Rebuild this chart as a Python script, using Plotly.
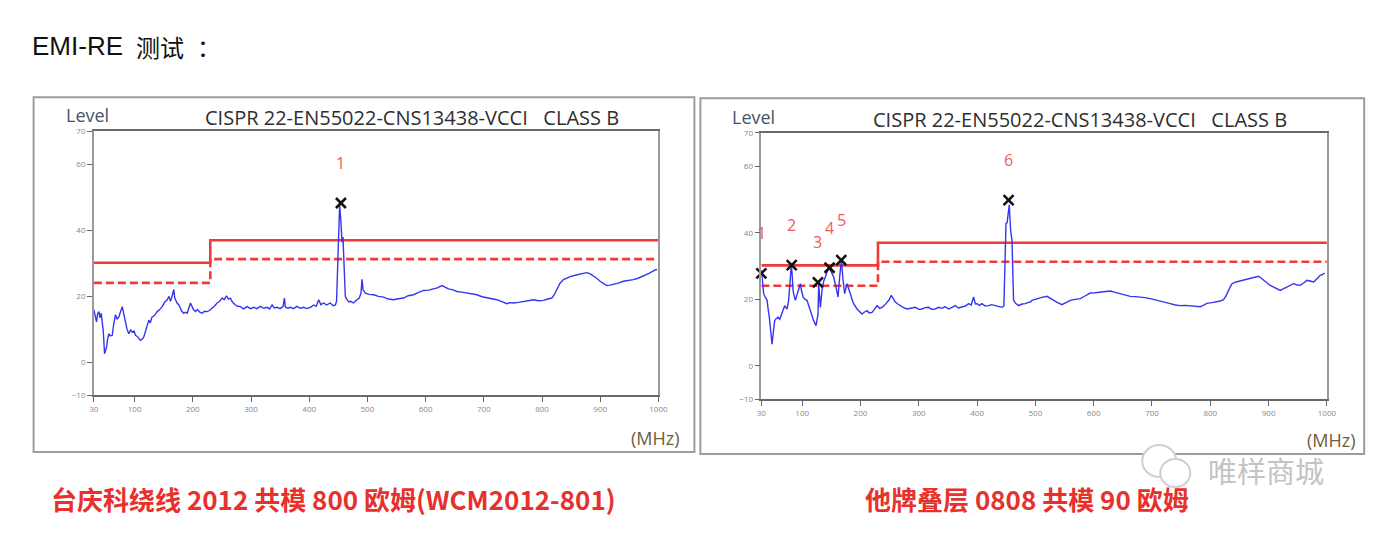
import plotly.graph_objects as go

W, H = 1388, 544
# measured placement of the rendered figure in the photographed window
SX, BX = 0.9895, 12.4
SY, BY = 0.978, 13.8


def px(x):
    return ((x - BX) / SX) / W


def py(y):
    return 1 - ((y - BY) / SY) / H


# ---------------- data ----------------
freq_a = [30, 32, 34.6, 36.5, 38.6, 40.5, 42.7, 44.5, 46, 48.4, 50, 51.8, 53.5, 55.8, 58, 61.6, 64, 67, 70, 72.9,
          76, 78.8, 81, 84.4, 87, 90, 93, 96, 99, 101.6, 105, 110, 113, 115.8, 120, 124.4, 127, 130, 134, 138.8,
          143, 147.4, 152, 156, 159, 161.7, 165, 167.3, 169, 170.3, 173, 176, 178.9, 181, 184.5, 187, 190.3, 193,
          196, 198, 201, 204.6, 208, 212, 216, 220, 224.7, 229, 233.3, 237, 241.9, 246, 250.5, 254, 257.8, 261,
          264.7, 268, 273.3, 277, 281.9, 287, 293.4, 299, 304.7, 310, 316, 322, 327.7, 332, 336.3, 340, 344.9,
          350, 355, 357.4, 359, 363, 367.7, 373, 379, 385, 390.5, 396, 402, 407.7, 412, 416.3, 420, 424.9, 430,
          436.3, 441, 445, 447, 449, 450.6, 452.3, 454, 456.4, 458, 460, 462, 465, 468, 471, 476, 482, 486, 489,
          490.8, 492.5, 496.5, 503, 510.7, 519, 527.9, 536, 545, 553, 562.2, 570, 579.4, 588, 596.5, 605, 613.7,
          620, 628, 634, 639.4, 647, 653.9, 662, 671, 680, 688.2, 697, 705.4, 714, 722.5, 731, 739.7, 745, 751,
          760, 768.2, 777, 785.4, 794, 802.5, 810, 816.9, 821, 825.5, 831, 836.9, 842, 848.4, 857, 865.5, 872,
          877, 883, 888.4, 894, 899.8, 905, 911.3, 917, 922.7, 931, 939.9, 948, 957, 965, 974.2, 984, 994.3, 998]
level_a = [15.9, 14.5, 12.3, 14.8, 15.4, 13.5, 14.9, 12.0, 9.8, 2.6, 3.5, 4.6, 7.0, 8.7, 8.0, 8.2, 11.5, 14.4, 13.2,
           13.8, 15.5, 16.9, 15.0, 12.3, 10.0, 8.7, 9.8, 9.2, 9.5, 8.2, 7.8, 6.7, 7.0, 7.7, 10.5, 12.8, 12.0, 13.8,
           14.2, 15.4, 16.0, 16.9, 18.3, 19.0, 20.0, 18.5, 20.5, 22.1, 19.5, 19.0, 18.0, 17.4, 16.4, 15.5, 14.9,
           15.2, 14.9, 16.5, 18.0, 17.2, 16.0, 15.4, 16.0, 15.2, 14.9, 15.5, 15.4, 15.8, 16.4, 17.0, 18.0, 18.5,
           19.5, 19.0, 20.2, 19.2, 19.5, 18.3, 17.4, 17.0, 16.9, 16.2, 16.9, 16.3, 16.7, 16.3, 17.0, 16.4, 16.7,
           16.2, 17.4, 16.5, 16.7, 16.3, 16.9, 19.5, 16.8, 16.4, 16.7, 16.3, 17.0, 16.4, 16.7, 16.3, 16.7, 17.4,
           17.0, 19.0, 17.5, 18.0, 17.4, 18.0, 17.2, 17.4, 18.5, 30.0, 42.6, 47.7, 44.0, 36.4, 38.0, 30.0, 20.0,
           19.0, 18.3, 18.5, 18.0, 19.0, 19.5, 21.0, 25.2, 22.0, 21.0, 20.6, 20.5, 20.0, 19.8, 19.2, 19.0, 19.3,
           19.5, 20.2, 20.5, 21.2, 21.8, 21.9, 22.3, 22.6, 23.3, 22.8, 22.3, 22.0, 21.5, 21.3, 21.0, 20.8, 20.5,
           19.9, 19.5, 19.3, 19.0, 18.5, 17.8, 18.1, 18.0, 18.2, 18.5, 18.9, 19.0, 18.7, 18.8, 19.2, 19.5, 20.5,
           22.1, 24.0, 25.1, 25.6, 26.0, 26.4, 26.7, 27.0, 27.2, 26.8, 26.2, 25.5, 24.6, 24.0, 23.3, 23.4, 23.6,
           24.0, 24.6, 24.8, 25.1, 25.5, 26.2, 27.0, 28.0, 28.2]

freq_b = [30, 31.5, 34, 37, 39.8, 42, 43.7, 46, 48.3, 50.5, 52.8, 55.5, 58.6, 61.5, 64.3, 67, 70, 72, 74, 76.8, 79,
          81.4, 83, 84.3, 86.3, 88.3, 90.5, 92.9, 96.9, 99, 101.5, 105, 108.4, 111, 114, 117, 119.7, 123.8, 125.5,
          127.2, 128.3, 129.5, 131.2, 134, 137, 139.7, 142.5, 145.4, 150, 154, 158, 161.5, 164.3, 167.2, 170.1,
          172.9, 176.9, 179.5, 182.6, 185.5, 188.3, 194.1, 198, 202.6, 207, 211.2, 215, 219.8, 224, 228.4, 233,
          237, 241, 245.5, 249, 252.9, 256, 259.8, 264, 268.3, 274, 279.8, 287, 294, 300, 305.5, 311, 316.9, 322,
          328.4, 334, 340, 345, 351.2, 357, 362.6, 368, 374.1, 380, 385.5, 390, 394, 397, 399.8, 404, 408.4, 414,
          419.8, 425, 431.3, 437, 442.7, 446, 448, 449.6, 451.5, 453, 455.2, 457.5, 459.9, 461.3, 462.6, 466,
          471.2, 477, 482.7, 488, 491.3, 494.2, 502.7, 511, 519.9, 525, 531.2, 538, 545.6, 552, 559.8, 568, 577,
          585, 594.1, 602, 611.3, 620, 628.4, 637, 645.6, 654, 662.7, 671, 679.9, 688, 697, 705, 714.2, 722, 731.3,
          740, 748.5, 757, 765.6, 774, 782.8, 788, 794.2, 803, 811.4, 817, 822.7, 827, 831.3, 834, 837.1, 844,
          851.3, 860, 868.5, 876, 882.7, 887, 891.3, 897, 902.8, 911, 919.9, 926, 931.4, 937, 942.8, 948, 954.3,
          960, 965.7, 971, 977.2, 983, 988.6, 993, 996]
level_b = [28.8, 25.0, 21.7, 20.5, 19.7, 16.5, 14.6, 10.5, 6.5, 10.0, 13.6, 14.2, 14.6, 14.0, 15.6, 16.5, 18.1, 17.5,
           17.1, 19.7, 25.0, 30.3, 27.0, 22.7, 21.0, 19.7, 21.0, 22.7, 24.7, 22.5, 20.7, 20.0, 19.7, 18.2, 16.6,
           15.0, 13.6, 12.1, 13.5, 15.6, 24.7, 21.0, 17.6, 22.7, 25.5, 26.7, 28.5, 29.7, 28.2, 26.7, 23.7, 20.7,
           26.7, 31.8, 25.8, 21.7, 24.7, 23.5, 21.7, 20.0, 18.7, 17.1, 16.5, 15.6, 16.2, 16.6, 15.9, 16.1, 17.0,
           18.1, 17.3, 17.6, 18.2, 19.2, 19.8, 21.2, 20.2, 19.2, 18.6, 18.1, 17.5, 17.1, 17.3, 17.6, 17.0, 17.1,
           17.5, 17.6, 17.0, 17.1, 17.6, 17.3, 17.8, 17.1, 17.6, 18.1, 17.4, 17.6, 18.0, 18.7, 18.3, 20.7, 18.6,
           18.7, 18.2, 18.7, 18.0, 18.1, 18.4, 18.1, 17.8, 17.6, 18.0, 30.0, 42.8, 43.0, 44.8, 48.4, 40.7, 37.7,
           28.0, 19.7, 18.8, 18.1, 18.6, 18.7, 19.1, 19.2, 19.7, 20.2, 20.6, 20.9, 20.3, 19.7, 19.0, 18.4, 19.0,
           19.7, 20.0, 20.2, 21.0, 21.9, 22.0, 22.2, 22.4, 22.5, 22.1, 21.7, 21.3, 20.9, 20.8, 20.7, 20.5, 20.2,
           19.8, 19.5, 19.1, 18.7, 18.3, 18.1, 18.2, 18.1, 17.9, 17.8, 18.2, 18.8, 19.0, 19.2, 19.5, 19.9, 21.0,
           22.7, 23.8, 24.7, 25.2, 25.5, 25.8, 26.2, 26.6, 26.9, 26.4, 25.7, 25.0, 24.2, 23.5, 22.7, 23.2, 23.7,
           24.2, 24.7, 24.4, 24.2, 24.9, 25.7, 25.5, 25.2, 26.2, 27.2, 27.5, 27.9]

limit_freq = [30, 230, 230, 1000]
limit_qp = [30.2, 30.2, 37.0, 37.0]
limit_margin = [24.1, 24.1, 31.3, 31.3]

peak_a_freq = [454.5]
peak_a_level = [48.3]
peak_a_label = ["1"]

peak_b_freq = [30, 82, 127, 147, 167, 454]
peak_b_level = [27.8, 30.3, 25.1, 29.5, 31.8, 49.8]
peak_b_label = ["1", "2", "3", "4", "5", "6"]

x_ticks = [30, 100, 200, 300, 400, 500, 600, 700, 800, 900, 1000]
y_ticks = [-10, 0, 20, 40, 60, 70]

page_title_latin = "EMI-RE"
page_title_cjk = "测试"
page_title_colon = "："
chart_title = "CISPR 22-EN55022-CNS13438-VCCI   CLASS B"
caption_a = "台庆科绕线 2012 共模 800 欧姆(WCM2012-801)"
caption_b = "他牌叠层 0808 共模 90 欧姆"
watermark = "唯样商城"

# ---------------- styles ----------------
RED = "#f03a3a"
BLUE = "#3535f0"
LABEL_RED = "#f25a5a"
CHART_FONT = "Open Sans"

fig = go.Figure()

panels = [
    dict(xa="x", ya="y", freq=freq_a, level=level_a, pf=peak_a_freq, pl=peak_a_level, lab=peak_a_label),
    dict(xa="x2", ya="y2", freq=freq_b, level=level_b, pf=peak_b_freq, pl=peak_b_level, lab=peak_b_label),
]

annotations = []
for p in panels:
    fig.add_trace(go.Scatter(x=limit_freq, y=limit_qp, mode="lines", xaxis=p["xa"], yaxis=p["ya"],
                             line=dict(color=RED, width=2.6), showlegend=False, hoverinfo="skip"))
    fig.add_trace(go.Scatter(x=limit_freq, y=limit_margin, mode="lines", xaxis=p["xa"], yaxis=p["ya"],
                             line=dict(color=RED, width=2.6, dash="8px,4px"), showlegend=False, hoverinfo="skip"))
    fig.add_trace(go.Scatter(x=p["freq"], y=p["level"], mode="lines", xaxis=p["xa"], yaxis=p["ya"],
                             line=dict(color=BLUE, width=1.4), showlegend=False))
    fig.add_trace(go.Scatter(x=p["pf"], y=p["pl"], mode="markers", xaxis=p["xa"], yaxis=p["ya"],
                             marker=dict(symbol="x-thin", size=10, line=dict(color="#111111", width=2.6)),
                             showlegend=False, cliponaxis=False))
    for f, l, t in zip(p["pf"], p["pl"], p["lab"]):
        annotations.append(dict(x=f, y=l, xref=p["xa"], yref=p["ya"], text=t, showarrow=False,
                                yshift=40, font=dict(family=CHART_FONT, size=16, color=LABEL_RED)))

axis_common_x = dict(range=[30, 1000], tickvals=x_ticks, ticks="outside", ticklen=5, tickwidth=1,
                     tickcolor="#666666", tickfont=dict(family=CHART_FONT, size=8, color="#888888"),
                     showgrid=False, zeroline=False, showline=True, linecolor="#6a6a6a", linewidth=1.5,
                     mirror=True)
axis_common_y = dict(range=[-10, 70], tickvals=y_ticks, ticks="outside", ticklen=5, tickwidth=1,
                     tickcolor="#666666", tickfont=dict(family=CHART_FONT, size=8, color="#888888"),
                     showgrid=False, zeroline=False, showline=True, linecolor="#9a9a9a", linewidth=1.5,
                     mirror=True)

fig.update_layout(
    width=W, height=H, margin=dict(l=0, r=0, t=0, b=0),
    paper_bgcolor="white", plot_bgcolor="white",
    xaxis=dict(domain=[px(93.3), px(658)], anchor="y", **axis_common_x),
    yaxis=dict(domain=[py(394.5), py(131)], anchor="x", **axis_common_y),
    xaxis2=dict(domain=[px(761), px(1326.7)], anchor="y2", **axis_common_x),
    yaxis2=dict(domain=[py(398.3), py(132.5)], anchor="x2", **axis_common_y),
)

# frames
shapes = [
    dict(type="rect", xref="paper", yref="paper", x0=px(33), x1=px(694), y0=py(451), y1=py(97),
         line=dict(color="#9c9c9c", width=2), layer="below"),
    dict(type="rect", xref="paper", yref="paper", x0=px(700), x1=px(1364), y0=py(453), y1=py(98),
         line=dict(color="#9c9c9c", width=2), layer="below"),
    # watermark icon (speech bubbles)
    dict(type="circle", xref="paper", yref="paper", x0=px(1142), x1=px(1176), y0=py(476), y1=py(444),
         line=dict(color="#cfcfcf", width=2), fillcolor="white"),
    dict(type="circle", xref="paper", yref="paper", x0=px(1160), x1=px(1190), y0=py(486), y1=py(458),
         line=dict(color="#cfcfcf", width=2), fillcolor="white"),
]

texts = [
    dict(x=px(29), y=py(46), text=page_title_latin, xanchor="left",
         font=dict(family="Liberation Sans", size=26, color="#111111")),
    dict(x=px(133), y=py(46), text=page_title_cjk, xanchor="left",
         font=dict(family="Noto Sans CJK SC", size=24, color="#111111")),
    dict(x=px(202), y=py(47), text=page_title_colon, xanchor="center",
         font=dict(family="Noto Sans CJK JP", size=24, color="#111111")),
    dict(x=px(63), y=py(115), text="Level", xanchor="left",
         font=dict(family=CHART_FONT, size=18, color="#45546a")),
    dict(x=px(412), y=py(117), text=chart_title, xanchor="center",
         font=dict(family=CHART_FONT, size=20, color="#2e2e2e")),
    dict(x=px(682), y=py(437), text="(MHz)", xanchor="right",
         font=dict(family=CHART_FONT, size=18, color="#6e5c3c")),
    dict(x=px(730), y=py(117), text="Level", xanchor="left",
         font=dict(family=CHART_FONT, size=18, color="#45546a")),
    dict(x=px(1080), y=py(119), text=chart_title, xanchor="center",
         font=dict(family=CHART_FONT, size=20, color="#2e2e2e")),
    dict(x=px(1358), y=py(439), text="(MHz)", xanchor="right",
         font=dict(family=CHART_FONT, size=18, color="#6e5c3c")),
    dict(x=px(333), y=py(497), text="<b>" + caption_a + "</b>", xanchor="center",
         font=dict(family="Noto Sans CJK SC", size=26, color="#e8302c")),
    dict(x=px(1027), y=py(497), text="<b>" + caption_b + "</b>", xanchor="center",
         font=dict(family="Noto Sans CJK SC", size=26, color="#e8302c")),
    dict(x=px(1266), y=py(469), text=watermark, xanchor="center",
         font=dict(family="Noto Sans CJK SC", size=29, color="#c4c4c4")),
]
for t in texts:
    t.update(xref="paper", yref="paper", showarrow=False, yanchor="middle")
    annotations.append(t)

fig.update_layout(shapes=shapes, annotations=annotations)

fig.write_html("out.html")
